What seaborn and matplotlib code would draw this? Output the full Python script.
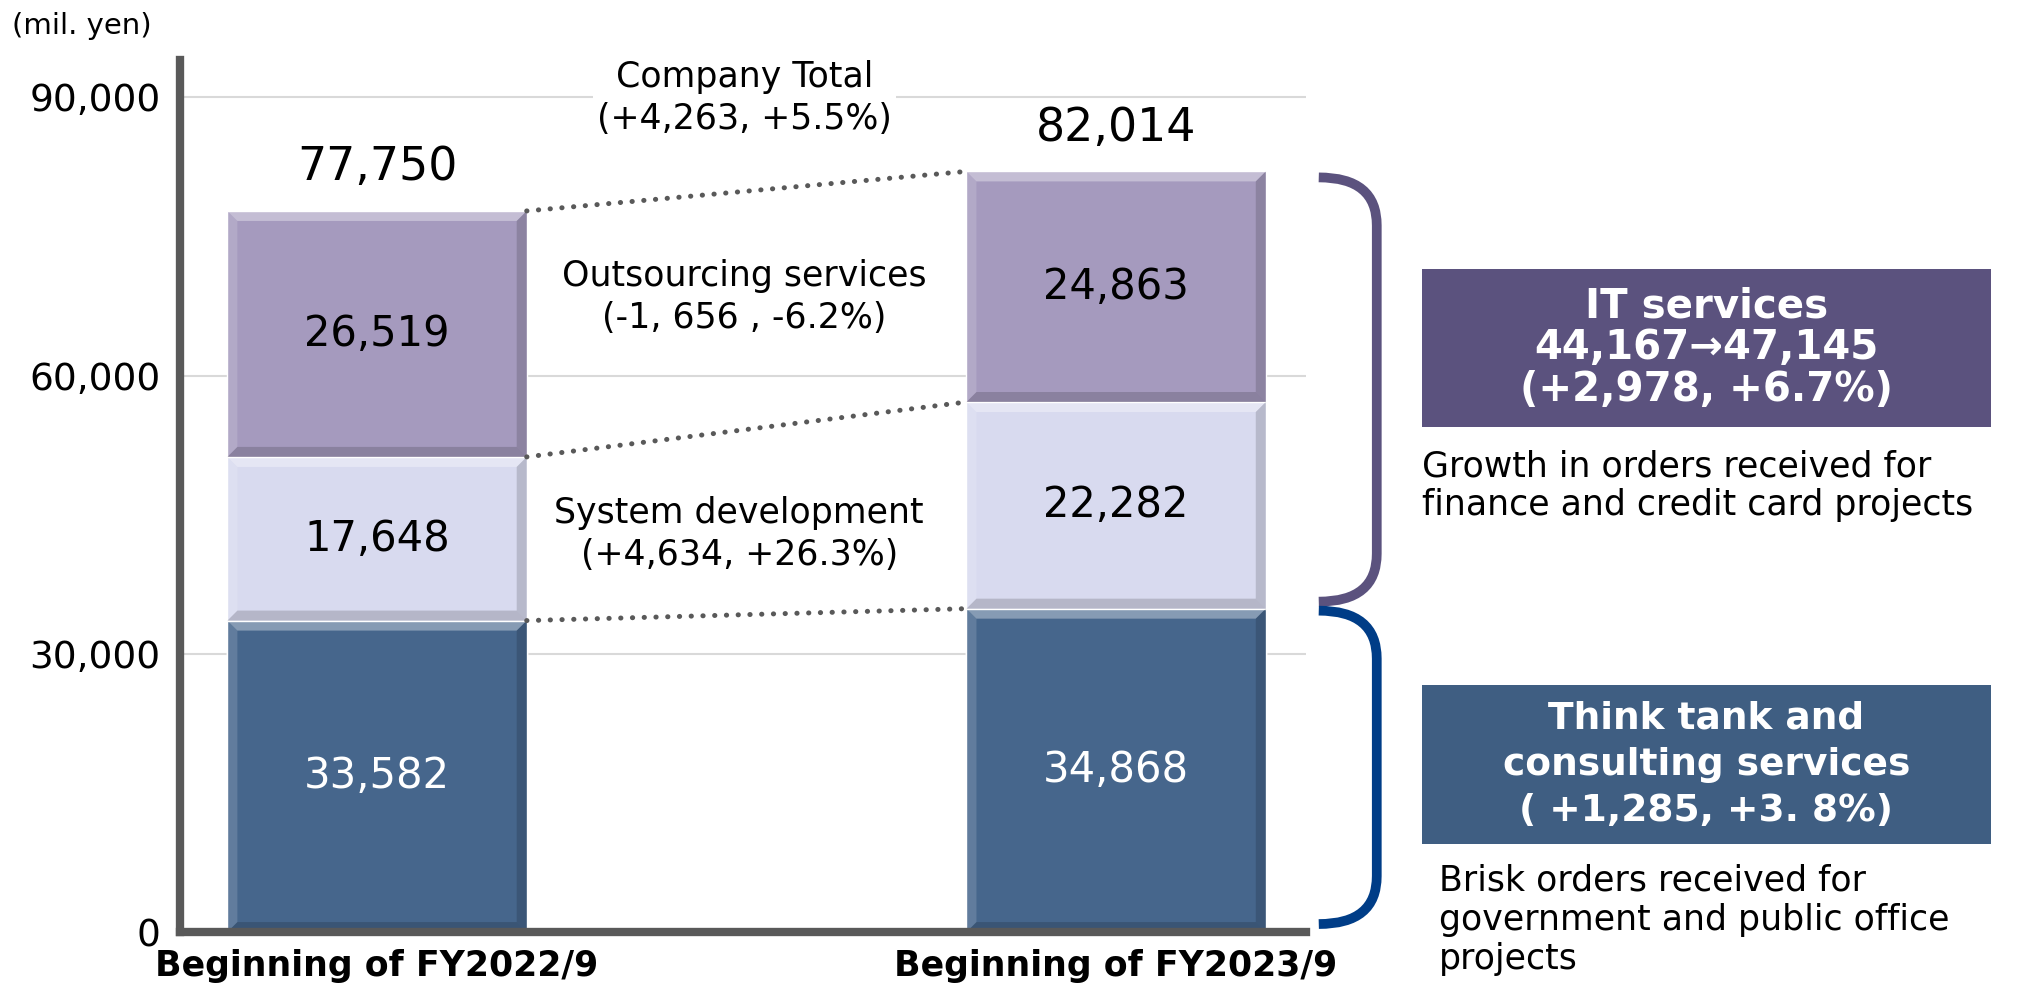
import numpy as np
import pandas as pd
import matplotlib.pyplot as plt
import seaborn as sns
from matplotlib.path import Path
from matplotlib.patches import PathPatch, Polygon, Rectangle

# -------------------------
# data (mil. yen)
# -------------------------
periods = ["Beginning of FY2022/9", "Beginning of FY2023/9"]
think_tank = [33582, 34868]
system_dev = [17648, 22282]
outsourcing = [26519, 24863]
total_labels = ["77,750", "82,014"]
yticks = [0, 30000, 60000, 90000]

company_note = "Company Total\n(+4,263, +5.5%)"
outsourcing_note = "Outsourcing services\n(-1, 656 , -6.2%)"
sysdev_note = "System development\n(+4,634, +26.3%)"
it_box = "IT services\n44,167\u219247,145\n(+2,978, +6.7%)"
it_note = "Growth in orders received for\nfinance and credit card projects"
tt_box = "Think tank and\nconsulting services\n( +1,285, +3. 8%)"
tt_note = "Brisk orders received for\ngovernment and public office\nprojects"

c_tt = "#46668c"
c_dev = "#d8daef"
c_out = "#a59abe"
c_it_box = "#5b527e"
c_tt_box = "#3f5e82"
c_tt_brace = "#003d87"
c_axis = "#595959"

df = pd.DataFrame({"period": periods, "think": think_tank, "dev": system_dev, "out": outsourcing})
df["dev_top"] = df["think"] + df["dev"]
df["total"] = df["dev_top"] + df["out"]

sns.set_style("white")
plt.rcParams["font.family"] = ["DejaVu Sans"]
plt.rcParams["text.color"] = "black"

fig = plt.figure(figsize=(20.18, 9.84), dpi=100)
ax = fig.add_axes([0.0892, 0.0528, 0.558, 0.886])

# stacked bars: draw cumulative heights from the top layer down
sns.barplot(data=df, x="period", y="total", color=c_out, saturation=1, width=0.405,
            errorbar=None, ax=ax, zorder=2)
sns.barplot(data=df, x="period", y="dev_top", color=c_dev, saturation=1, width=0.405,
            errorbar=None, ax=ax, zorder=2)
sns.barplot(data=df, x="period", y="think", color=c_tt, saturation=1, width=0.405,
            errorbar=None, ax=ax, zorder=2)

ax.set_xlim(-0.2666, 1.257)
ax.set_ylim(0, 94000)
ax.set_xlabel("")
ax.set_ylabel("")
ax.set_yticks(yticks)
ax.set_yticklabels([f"{v:,}" for v in yticks])

sns.despine(ax=ax)
for side in ["left", "bottom"]:
    ax.spines[side].set_color(c_axis)
    ax.spines[side].set_linewidth(6)
    ax.spines[side].set_zorder(5)
ax.tick_params(axis="y", direction="in", length=22, width=5, color=c_axis, pad=14,
               labelsize=27, labelcolor="black")
ax.tick_params(axis="x", length=0, pad=12, labelsize=25, labelcolor="black")
for lab in ax.get_xticklabels():
    lab.set_fontweight("bold")
ax.set_axisbelow(True)
ax.yaxis.grid(True, color="#d9d9d9", lw=1.5)
ax.xaxis.grid(False)

# pixel size in data units
bb = ax.get_window_extent()
px_x = (ax.get_xlim()[1] - ax.get_xlim()[0]) / bb.width
px_y = (ax.get_ylim()[1] - ax.get_ylim()[0]) / bb.height

bars = ax.patches[:2]
lefts = [p.get_x() for p in bars]
rights = [p.get_x() + p.get_width() for p in bars]
centers = [(l + r) / 2 for l, r in zip(lefts, rights)]

# bevel look on every segment
b = 10
for i in range(2):
    lows = [0, df["think"][i], df["dev_top"][i]]
    highs = [df["think"][i], df["dev_top"][i], df["total"][i]]
    x0, x1 = lefts[i], rights[i]
    for y0, y1 in zip(lows, highs):
        bx, by = b * px_x, b * px_y
        ax.add_patch(Polygon([(x0, y1), (x1, y1), (x1 - bx, y1 - by), (x0 + bx, y1 - by)],
                             facecolor="white", alpha=0.35, lw=0, zorder=3))
        ax.add_patch(Polygon([(x0, y0), (x1, y0), (x1 - bx, y0 + by), (x0 + bx, y0 + by)],
                             facecolor="black", alpha=0.16, lw=0, zorder=3))
        ax.add_patch(Polygon([(x0, y0), (x0, y1), (x0 + bx, y1 - by), (x0 + bx, y0 + by)],
                             facecolor="white", alpha=0.15, lw=0, zorder=3))
        ax.add_patch(Polygon([(x1, y0), (x1, y1), (x1 - bx, y1 - by), (x1 - bx, y0 + by)],
                             facecolor="black", alpha=0.15, lw=0, zorder=3))

# segment values
for i in range(2):
    ax.text(centers[i], df["think"][i] / 2, f"{df['think'][i]:,}", ha="center", va="center",
            fontsize=30, color="white", zorder=4)
    ax.text(centers[i], df["think"][i] + df["dev"][i] / 2, f"{df['dev'][i]:,}", ha="center",
            va="center", fontsize=30, zorder=4)
    ax.text(centers[i], df["dev_top"][i] + df["out"][i] / 2, f"{df['out'][i]:,}", ha="center",
            va="center", fontsize=30, zorder=4)
    ax.annotate(total_labels[i], (centers[i], df["total"][i]), xytext=(0, 31),
                textcoords="offset points", ha="center", va="center", fontsize=33,
                fontweight="medium", zorder=4)

# dotted connectors between the bars
for col in ["think", "dev_top", "total"]:
    ax.plot([rights[0], lefts[1]], [df[col][0], df[col][1]], color=c_axis, lw=3.6,
            ls=(0, (0.05, 2.3)), dash_capstyle="round", zorder=3)

# change notes between the bars
ax.text(0.497, 89900, company_note, ha="center", va="center", fontsize=25, zorder=4,
        linespacing=1.3, bbox=dict(facecolor="white", edgecolor="none", pad=3))
ax.text(0.497, 68450, outsourcing_note, ha="center", va="center", fontsize=25,
        linespacing=1.3, zorder=4)
ax.text(0.49, 42900, sysdev_note, ha="center", va="center", fontsize=25,
        linespacing=1.3, zorder=4)

# (mil. yen)
fig.text(0.006, 0.974, "(mil. yen)", ha="left", va="center", fontsize=21)


# braces on the right of the second bar
def brace(y_top, y_bot, color):
    xa = rights[1] + 53 * px_x
    xb = rights[1] + 111 * px_x
    r = 48 * px_y
    verts = [(xa, y_top), (xb, y_top), (xb, y_top - r), (xb, y_bot + r), (xb, y_bot), (xa, y_bot)]
    codes = [Path.MOVETO, Path.CURVE3, Path.CURVE3, Path.LINETO, Path.CURVE3, Path.CURVE3]
    ax.add_patch(PathPatch(Path(verts, codes), fill=False, edgecolor=color, lw=7,
                           capstyle="butt", clip_on=False, zorder=4))


brace(df["total"][1] - 6 * px_y, df["think"][1] + 7 * px_y, c_it_box)
brace(df["think"][1] - 2 * px_y, 8 * px_y, c_tt_brace)

# summary boxes
fig.add_artist(Rectangle((0.7047, 0.5661), 0.2820, 0.1606, transform=fig.transFigure,
                         facecolor=c_it_box, edgecolor="none"))
fig.text(0.8455, 0.6463, it_box, ha="center", va="center", fontsize=29, color="white",
         fontweight="bold", linespacing=1.05)
fig.text(0.7047, 0.5065, it_note, ha="left", va="center", fontsize=25, linespacing=1.15)

fig.add_artist(Rectangle((0.7047, 0.1423), 0.2820, 0.1616, transform=fig.transFigure,
                         facecolor=c_tt_box, edgecolor="none"))
fig.text(0.8455, 0.2228, tt_box, ha="center", va="center", fontsize=27, color="white",
         fontweight="bold", linespacing=1.35)
fig.text(0.7131, 0.0650, tt_note, ha="left", va="center", fontsize=25, linespacing=1.2)

fig.savefig("out.png", dpi=100)
